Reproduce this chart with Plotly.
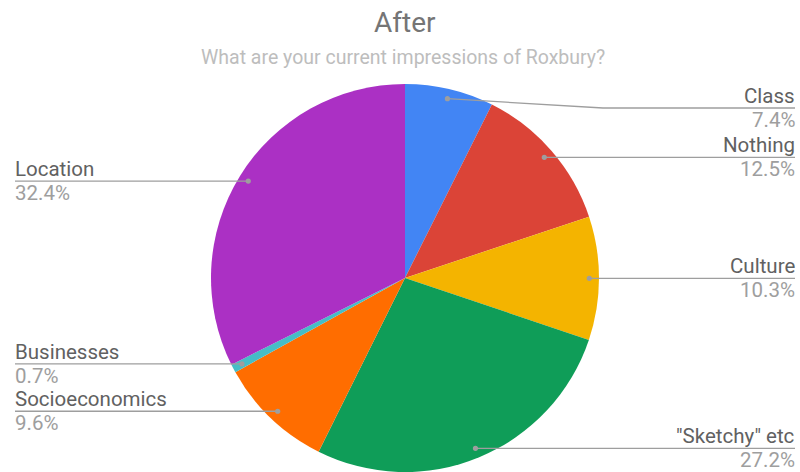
import math
import plotly.graph_objects as go

labels = ["Class", "Nothing", "Culture", "\"Sketchy\" etc", "Socioeconomics", "Businesses", "Location"]
values = [7.4, 12.5, 10.3, 27.2, 9.6, 0.7, 32.4]
colors = ["#4285f4", "#db4437", "#f4b400", "#0f9d58", "#ff6d00", "#46bdc6", "#ab30c4"]
title = "After"
subtitle = "What are your current impressions of Roxbury?"

W, H = 800, 472
cx, cy, R = 405, 278, 194
LINE = "#9e9e9e"
LFONT = 20.5

fig = go.Figure()
fig.add_trace(go.Pie(
    labels=labels, values=values, sort=False, direction="clockwise", rotation=0,
    marker=dict(colors=colors, line=dict(width=0)), textinfo="none", showlegend=False,
    domain=dict(x=[(cx - R) / W, (cx + R) / W], y=[(H - cy - R) / H, (H - cy + R) / H]),
    hoverinfo="label+percent",
))
# invisible trace to create the pixel-coordinate axes
fig.add_trace(go.Scatter(x=[0, W], y=[0, H], mode="markers", marker=dict(opacity=0),
                         hoverinfo="skip", showlegend=False))

total = sum(values)
cum = 0.0
items = []
for lab, v in zip(labels, values):
    mid = (cum + v / 2) / total * 2 * math.pi
    cum += v
    px = cx + 0.95 * R * math.sin(mid)
    py = cy - 0.95 * R * math.cos(mid)
    side = "right" if math.sin(mid) >= 0 else "left"
    items.append(dict(label=lab, pct=v, x=px, y=py, side=side))

for side in ("right", "left"):
    group = sorted([it for it in items if it["side"] == side], key=lambda d: d["y"])
    prev = None
    for it in group:
        ly = max(it["y"], 108)
        if prev is not None:
            ly = max(ly, prev + 46)
        it["ly"] = ly
        prev = ly

shapes = []
annotations = []
for it in items:
    if it["side"] == "right":
        if abs(it["ly"] - it["y"]) > 1:
            path = f"M{it['x']},{it['y']} L603,{it['ly']} L795,{it['ly']}"
        else:
            path = f"M{it['x']},{it['y']} L795,{it['ly']}"
        tx, anchor = 796, "right"
    else:
        path = f"M15,{it['ly']} L{it['x']},{it['y']}"
        tx, anchor = 14, "left"
    shapes.append(dict(type="path", path=path, xref="x", yref="y", layer="above",
                       line=dict(color=LINE, width=1.3)))
    shapes.append(dict(type="circle", xref="x", yref="y", layer="above",
                       x0=it["x"] - 2.6, x1=it["x"] + 2.6, y0=it["y"] - 2.6, y1=it["y"] + 2.6,
                       fillcolor=LINE, line=dict(width=0)))
    annotations.append(dict(x=tx, y=it["ly"] + 1, xref="x", yref="y", text=it["label"],
                            showarrow=False, xanchor=anchor, yanchor="bottom", borderpad=0,
                            font=dict(family="Roboto", size=LFONT, color="#616161")))
    annotations.append(dict(x=tx, y=it["ly"] - 1, xref="x", yref="y", text=f"{it['pct']:.1f}%",
                            showarrow=False, xanchor=anchor, yanchor="top", borderpad=0,
                            font=dict(family="Roboto", size=LFONT, color="#9e9e9e")))

annotations.append(dict(x=405, y=22, xref="x", yref="y", text=title, showarrow=False,
                        xanchor="center", yanchor="middle",
                        font=dict(family="Roboto", size=28, color="#757575")))
annotations.append(dict(x=403, y=57, xref="x", yref="y", text=subtitle, showarrow=False,
                        xanchor="center", yanchor="middle",
                        font=dict(family="Roboto", size=19.5, color="#bdbdbd")))

fig.update_layout(
    width=W, height=H, autosize=False,
    margin=dict(l=0, r=0, t=0, b=0),
    paper_bgcolor="white", plot_bgcolor="rgba(0,0,0,0)",
    xaxis=dict(range=[0, W], visible=False, fixedrange=True, domain=[0, 1]),
    yaxis=dict(range=[H, 0], visible=False, fixedrange=True, domain=[0, 1]),
    annotations=annotations, shapes=shapes,
)
fig.write_html("out.html", config={"displayModeBar": False},
               post_script="document.body.style.margin='0px';")
